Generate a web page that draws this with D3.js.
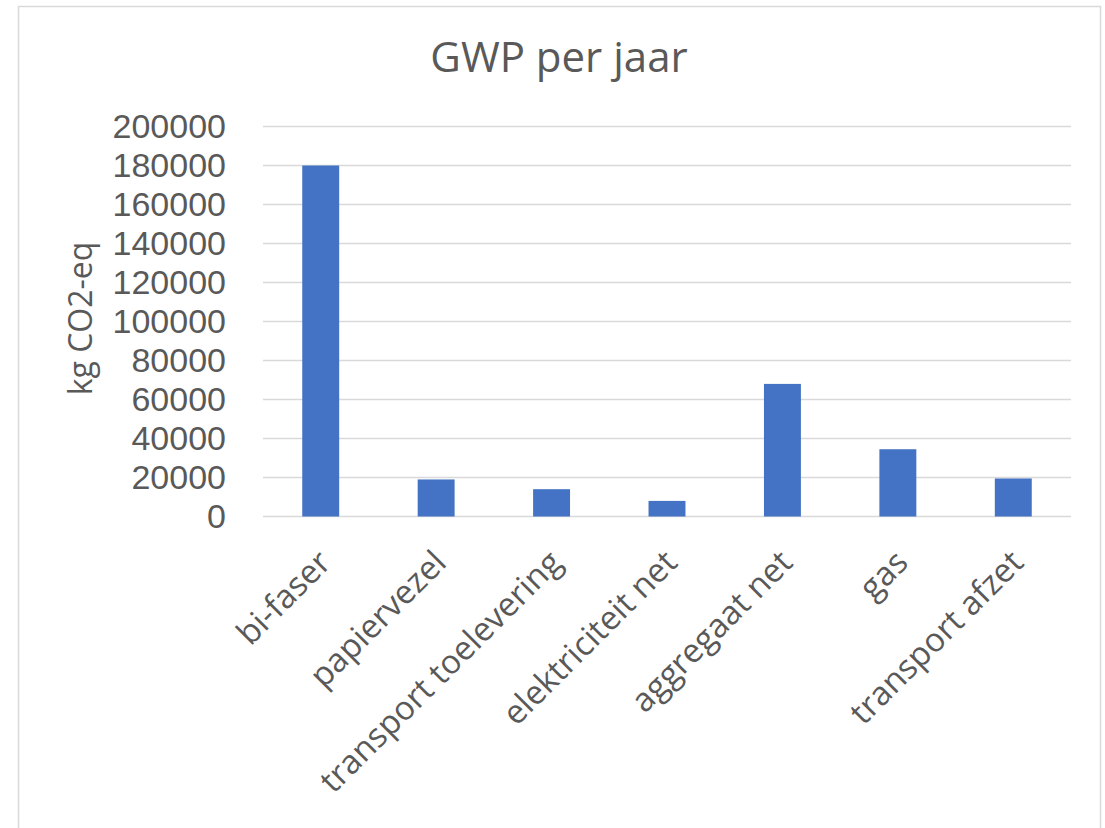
<!DOCTYPE html>
<html lang="nl">
  <head>
    <meta charset="UTF-8" />
    <title>GWP per jaar</title>
    <script src="https://cdn.jsdelivr.net/npm/d3@7"></script>
    <style>
      body { margin: 0; background: #fff; }
      text { font-family: "Open Sans", sans-serif; fill: #595959; }
    </style>
  </head>
  <body>
    <svg width="1105" height="828"></svg>
    <script>
      // data
      const categories = ["bi-faser", "papiervezel", "transport toelevering", "elektriciteit net", "aggregaat net", "gas", "transport afzet"];
      const values = [180000, 19000, 14000, 8000, 68000, 34500, 19500];
      const yTicks = [0, 20000, 40000, 60000, 80000, 100000, 120000, 140000, 160000, 180000, 200000];

      const svg = d3.select("svg");
      const plot = { left: 263, right: 1071, top: 126.5, bottom: 516.5 };

      // chart frame
      svg.append("rect")
        .attr("x", 18.5).attr("y", 6.5)
        .attr("width", 1082).attr("height", 840)
        .attr("fill", "#fff").attr("stroke", "#d9d9d9").attr("stroke-width", 1.5);

      const x = d3.scaleBand()
        .domain(categories)
        .range([plot.left, plot.right])
        .paddingInner(0.68).paddingOuter(0.34);

      const y = d3.scaleLinear()
        .domain([0, 200000])
        .range([plot.bottom, plot.top]);

      // gridlines
      svg.append("g")
        .selectAll("line")
        .data(yTicks)
        .join("line")
        .attr("x1", plot.left).attr("x2", plot.right)
        .attr("y1", d => y(d)).attr("y2", d => y(d))
        .attr("stroke", "#d9d9d9").attr("stroke-width", 1.5);

      // y axis labels (font with a compact line box so labels don't collide)
      const yAxis = d3.axisLeft(y).tickValues(yTicks).tickSize(0).tickPadding(0).tickFormat(d3.format("d"));
      svg.append("g")
        .attr("transform", "translate(226,0)")
        .call(yAxis)
        .call(g => g.select(".domain").remove())
        .selectAll("text")
        .attr("font-size", 34)
        .style("font-family", "'Liberation Sans', Arial, sans-serif")
        .style("fill", "#595959");

      // bars
      svg.append("g")
        .selectAll("rect")
        .data(values)
        .join("rect")
        .attr("x", (d, i) => x(categories[i]))
        .attr("y", d => y(d))
        .attr("width", x.bandwidth())
        .attr("height", d => y(0) - y(d))
        .attr("fill", "#4472c4");

      // x axis labels
      const xAxis = d3.axisBottom(x).tickSize(0).tickPadding(0);
      svg.append("g")
        .attr("transform", `translate(0,${plot.bottom})`)
        .call(xAxis)
        .call(g => g.select(".domain").remove())
        .selectAll("text")
        .attr("font-size", 33)
        .attr("text-anchor", "end")
        .attr("dy", 0)
        .attr("transform", "translate(12,48) rotate(-45)");

      // title
      svg.append("text")
        .attr("x", 559).attr("y", 72)
        .attr("text-anchor", "middle")
        .attr("font-size", 42)
        .text("GWP per jaar");

      // y axis title
      svg.append("text")
        .attr("transform", `translate(92,${(plot.top + plot.bottom) / 2 - 3}) rotate(-90)`)
        .attr("text-anchor", "middle")
        .attr("font-size", 32)
        .text("kg CO2-eq");
    </script>
  </body>
</html>
